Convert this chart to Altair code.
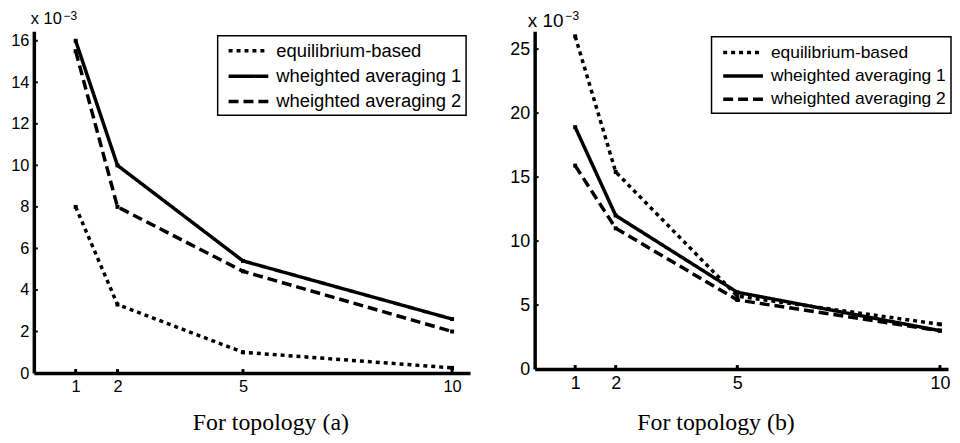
import altair as alt
import pandas as pd

# ---------------- data ----------------
x_vals = [1, 2, 5, 10]
series = ["equilibrium-based", "wheighted averaging 1", "wheighted averaging 2"]

a_eq = [8.0, 3.3, 1.0, 0.25]
a_wa1 = [16.0, 10.0, 5.4, 2.6]
a_wa2 = [15.5, 8.0, 4.9, 2.0]

b_eq = [26.0, 15.4, 5.7, 3.5]
b_wa1 = [18.9, 12.0, 6.0, 3.0]
b_wa2 = [15.9, 11.0, 5.4, 3.0]

a_yticks = [0, 2, 4, 6, 8, 10, 12, 14, 16]
b_yticks = [0, 5, 10, 15, 20, 25]

titles = ["For topology (a)", "For topology (b)"]
exp_base = "x 10"
exp_sup = "\u22123"

dashes = [[4, 4], [1, 0], [10, 5]]
SANS = "Liberation Sans"
SERIF = "Liberation Serif"


def long_df(eq, wa1, wa2):
    rows = []
    for name, vals in zip(series, [eq, wa1, wa2]):
        for xv, yv in zip(x_vals, vals):
            rows.append({"x": xv, "y": yv, "series": name})
    return pd.DataFrame(rows)


def panel(df, yticks, title, W, H, xmax, ymax, fs_tick, fs_leg, leg_pad, leg_rp,
          leg_x, leg_y, title_x, title_y, base_xy, sup_xy, fs_base):
    x_enc = alt.X(
        "x:Q",
        scale=alt.Scale(domain=[0, xmax], nice=False, zero=False),
        axis=alt.Axis(values=x_vals, title=title, grid=False, ticks=False,
                      tickSize=0, labelPadding=6, labelFontSize=fs_tick,
                      labelFont=SANS, labelColor="black", labelFlush=False,
                      labelOverlap=False, domainColor="black", domainWidth=3.5,
                      titleFont=SERIF, titleFontSize=24, titleFontWeight="normal",
                      titleColor="black", titleX=title_x, titleY=title_y,
                      titleBaseline="alphabetic", titleAlign="center",
                      titleAnchor="start", format="d"),
    )
    y_enc = alt.Y(
        "y:Q",
        scale=alt.Scale(domain=[0, ymax], nice=False, zero=False),
        axis=alt.Axis(values=yticks, title=None, grid=False, ticks=False,
                      tickSize=0, labelPadding=5, labelFontSize=fs_tick,
                      labelFont=SANS, labelColor="black", labelFlush=False,
                      labelOverlap=False, domainColor="black", domainWidth=3.5,
                      format="d"),
    )
    base = alt.Chart(df)
    lines = base.mark_line(strokeWidth=3.5, color="black", strokeCap="butt").encode(
        x=x_enc,
        y=y_enc,
        strokeDash=alt.StrokeDash(
            "series:N",
            scale=alt.Scale(domain=series, range=dashes),
            legend=alt.Legend(
                title=None, orient="none", legendX=leg_x, legendY=leg_y,
                symbolType="M-0.472,0H3.972", symbolSize=324, symbolStrokeWidth=3.5,
                symbolStrokeColor="black", symbolFillColor="transparent",
                labelFont=SANS, labelFontSize=fs_leg, labelColor="black",
                labelLimit=400, labelOffset=32.75, strokeColor="black",
                fillColor="white", padding=leg_pad, rowPadding=leg_rp, cornerRadius=0,
            ),
        ),
    )
    squares = base.mark_square(size=16, color="black", opacity=1).encode(x=x_enc, y=y_enc)

    ytick_df = pd.DataFrame({"y": yticks[1:]})
    yt = alt.Chart(ytick_df).mark_rule(color="black", strokeWidth=2).encode(
        y=y_enc, x=alt.value(0), x2=alt.value(4))
    xtick_df = pd.DataFrame({"x": x_vals})
    xt = alt.Chart(xtick_df).mark_rule(color="black", strokeWidth=3).encode(
        x=x_enc, y=alt.value(H), y2=alt.value(H - 4))

    t1 = alt.Chart(pd.DataFrame({"t": [exp_base]})).mark_text(
        align="left", baseline="middle", font=SANS, fontSize=fs_base, color="black"
    ).encode(text="t:N", x=alt.value(base_xy[0]), y=alt.value(base_xy[1]))
    t2 = alt.Chart(pd.DataFrame({"t": [exp_sup]})).mark_text(
        align="left", baseline="middle", font=SANS, fontSize=12, color="black"
    ).encode(text="t:N", x=alt.value(sup_xy[0]), y=alt.value(sup_xy[1]))

    return alt.layer(lines, squares, yt, xt, t1, t2).properties(width=W, height=H)


left = panel(long_df(a_eq, a_wa1, a_wa2), a_yticks, titles[0],
             W=439, H=344, xmax=10.43, ymax=16.46, fs_tick=16.5, fs_leg=18.5,
             leg_pad=4.25, leg_rp=4.5, leg_x=185, leg_y=4.5, title_x=238, title_y=57,
             base_xy=(-3, -12), sup_xy=(30, -15.5), fs_base=16.5)
right = panel(long_df(b_eq, b_wa1, b_wa2), b_yticks, titles[1],
              W=416, H=340, xmax=10.2, ymax=26.4, fs_tick=18, fs_leg=17.5,
              leg_pad=5, leg_rp=3.5, leg_x=178, leg_y=5.5, title_x=182, title_y=61,
              base_xy=(-7, -10.5), sup_xy=(31, -15.5), fs_base=19)

chart = alt.hconcat(left, right, spacing=39).resolve_scale(
    strokeDash="independent", x="independent", y="independent"
).resolve_legend(strokeDash="independent").properties(
    padding={"left": 2, "top": 0, "right": 0, "bottom": 0}, background="white"
).configure_view(stroke=None).configure_legend(strokeWidth=1.5)

chart.save("out.html", embed_options={"renderer": "svg", "actions": False})
